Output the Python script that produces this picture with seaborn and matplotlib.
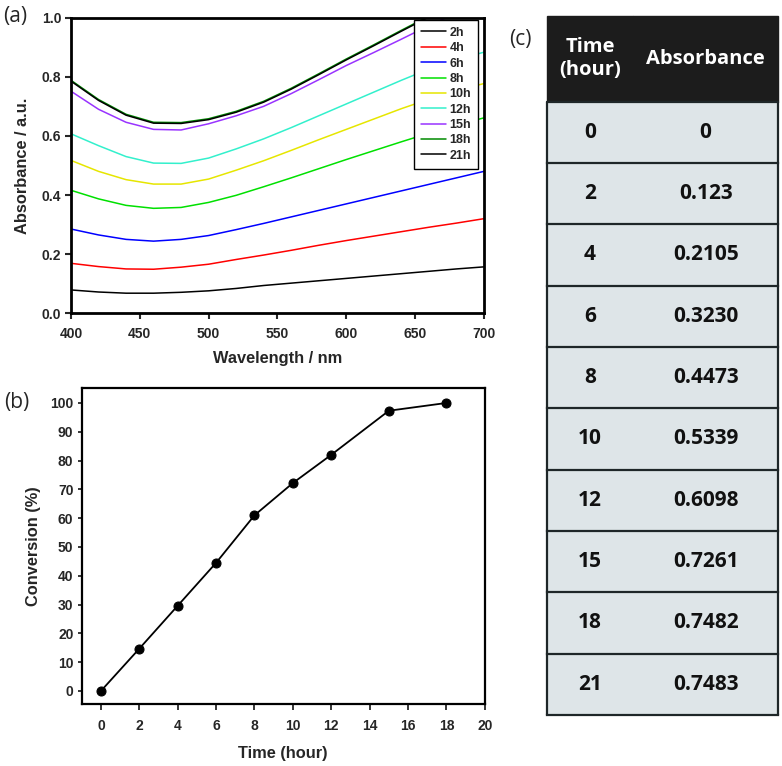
import numpy as np
import pandas as pd
import matplotlib
matplotlib.use("Agg")
import matplotlib.pyplot as plt
import seaborn as sns

# -----------------------------------------------------------------------------
# Data
# -----------------------------------------------------------------------------

# (a) UV-vis spectra, absorbance read every 20 nm
wavelength = [400, 420, 440, 460, 480, 500, 520, 540, 560, 580, 600, 620, 640, 660, 680, 700]
abs_2h = [0.079, 0.072, 0.068, 0.068, 0.071, 0.076, 0.084, 0.094, 0.102, 0.110, 0.118, 0.126, 0.134, 0.142, 0.150, 0.157]
abs_4h = [0.169, 0.158, 0.150, 0.149, 0.156, 0.166, 0.182, 0.197, 0.213, 0.230, 0.246, 0.261, 0.276, 0.291, 0.305, 0.320]
abs_6h = [0.285, 0.265, 0.250, 0.244, 0.250, 0.263, 0.283, 0.304, 0.326, 0.348, 0.370, 0.392, 0.414, 0.436, 0.458, 0.480]
abs_8h = [0.416, 0.387, 0.365, 0.355, 0.358, 0.375, 0.399, 0.428, 0.458, 0.489, 0.520, 0.550, 0.580, 0.609, 0.636, 0.661]
abs_10h = [0.517, 0.480, 0.452, 0.437, 0.437, 0.454, 0.484, 0.516, 0.551, 0.587, 0.622, 0.657, 0.692, 0.724, 0.753, 0.777]
abs_12h = [0.607, 0.567, 0.530, 0.508, 0.507, 0.525, 0.556, 0.590, 0.628, 0.668, 0.708, 0.748, 0.788, 0.826, 0.858, 0.883]
abs_15h = [0.751, 0.690, 0.646, 0.622, 0.620, 0.641, 0.668, 0.700, 0.743, 0.790, 0.838, 0.882, 0.927, 0.973, 1.015, 1.058]
abs_18h = [0.788, 0.723, 0.673, 0.646, 0.645, 0.658, 0.683, 0.717, 0.761, 0.810, 0.860, 0.908, 0.957, 1.005, 1.052, 1.098]
abs_21h = [0.785, 0.720, 0.670, 0.643, 0.642, 0.655, 0.680, 0.714, 0.758, 0.807, 0.857, 0.905, 0.954, 1.002, 1.049, 1.095]

spectra_labels = ["2h", "4h", "6h", "8h", "10h", "12h", "15h", "18h", "21h"]
spectra = [abs_2h, abs_4h, abs_6h, abs_8h, abs_10h, abs_12h, abs_15h, abs_18h, abs_21h]
spectra_colors = ["#000000", "#ff0000", "#0000ff", "#00e000", "#e6e600",
                  "#33f0cc", "#9933ff", "#008a00", "#000000"]

# (b) conversion vs time
conv_time = [0, 2, 4, 6, 8, 10, 12, 15, 18]
conversion = [0, 14.7, 29.6, 44.5, 61.0, 72.2, 82.0, 97.3, 100.0]

# (c) table
table_time = ["0", "2", "4", "6", "8", "10", "12", "15", "18", "21"]
table_abs = ["0", "0.123", "0.2105", "0.3230", "0.4473", "0.5339",
             "0.6098", "0.7261", "0.7482", "0.7483"]
table_header = ["Time\n(hour)", "Absorbance"]

# -----------------------------------------------------------------------------
# Style
# -----------------------------------------------------------------------------
sns.set_theme(style="ticks")
plt.rcParams["font.family"] = ["Liberation Sans", "DejaVu Sans"]
plt.rcParams["font.weight"] = "bold"
plt.rcParams["axes.labelweight"] = "bold"

tick_fs = 10
label_fs = 11.8
line_col = "#1e2628"

fig = plt.figure(figsize=(7.82, 7.66), dpi=100)

# -----------------------------------------------------------------------------
# (a) spectra
# -----------------------------------------------------------------------------
rows = []
for lab, vals in zip(spectra_labels, spectra):
    for w, v in zip(wavelength, vals):
        rows.append({"wavelength": w, "absorbance": v, "time": lab})
df_spec = pd.DataFrame(rows)

ax1 = fig.add_axes([0.0908, 0.591, 0.528, 0.386])
sns.lineplot(data=df_spec, x="wavelength", y="absorbance", hue="time",
             hue_order=spectra_labels, palette=spectra_colors, lw=1.1, ax=ax1)
ax1.set_xlim(400, 700)
ax1.set_ylim(0, 1.0)
ax1.set_xticks(np.arange(400, 701, 50))
ax1.set_yticks(np.arange(0, 1.01, 0.2))
ax1.set_yticklabels([f"{v:.1f}" for v in np.arange(0, 1.01, 0.2)])
ax1.set_xlabel("Wavelength / nm", fontsize=label_fs)
ax1.set_ylabel("Absorbance / a.u.", fontsize=label_fs)
ax1.xaxis.set_label_coords(0.5, -0.128)
ax1.yaxis.set_label_coords(-0.1, 0.5)
ax1.tick_params(axis="x", direction="out", length=4, width=1.5, pad=6, labelsize=tick_fs)
ax1.tick_params(axis="y", direction="out", length=4, width=1.5, pad=3, labelsize=tick_fs)
for s in ax1.spines.values():
    s.set_visible(True)
    s.set_linewidth(2.0)
    s.set_color("black")
leg = ax1.legend(loc="upper right", bbox_to_anchor=(0.986, 0.992), borderaxespad=0,
                 fontsize=9, frameon=True, fancybox=False, framealpha=1,
                 edgecolor="black", handlelength=2.0, handletextpad=0.3,
                 labelspacing=0.27, borderpad=0.55, title=None)
leg.get_frame().set_linewidth(1.0)
for t in leg.get_texts():
    t.set_fontweight("bold")

# -----------------------------------------------------------------------------
# (b) conversion
# -----------------------------------------------------------------------------
df_conv = pd.DataFrame({"time": conv_time, "conversion": conversion})
ax2 = fig.add_axes([0.1045, 0.081, 0.5155, 0.4125])
sns.lineplot(data=df_conv, x="time", y="conversion", color="black", lw=1.3,
             marker="o", markersize=6.5, markeredgecolor="black", ax=ax2)
ax2.set_xlim(-1, 20)
ax2.set_ylim(-4.5, 105.2)
ax2.set_xticks(np.arange(0, 21, 2))
ax2.set_yticks(np.arange(0, 101, 10))
ax2.set_xlabel("Time (hour)", fontsize=label_fs)
ax2.set_ylabel("Conversion (%)", fontsize=label_fs)
ax2.xaxis.set_label_coords(0.5, -0.132)
ax2.yaxis.set_label_coords(-0.1, 0.5)
ax2.tick_params(axis="x", direction="out", length=4, width=1.3, pad=7, labelsize=tick_fs)
ax2.tick_params(axis="y", direction="out", length=3, width=1.3, pad=3, labelsize=tick_fs)
for s in ax2.spines.values():
    s.set_visible(True)
    s.set_linewidth(1.6)
    s.set_color("black")

# -----------------------------------------------------------------------------
# (c) table
# -----------------------------------------------------------------------------
ax3 = fig.add_axes([0.699, 0.0666, 0.296, 0.913])
ax3.axis("off")
cell_text = [[t, a] for t, a in zip(table_time, table_abs)]
tbl = ax3.table(cellText=cell_text, colLabels=table_header, cellLoc="center",
                bbox=[0, 0, 1, 1])
tbl.auto_set_font_size(False)
col_w = [0.374, 0.626]
for (r, c), cell in tbl.get_celld().items():
    cell.set_width(col_w[c])
    cell.get_text().set_fontfamily(["Open Sans", "DejaVu Sans"])
    cell.get_text().set_fontweight("bold")
    if r == 0:
        cell.set_height(86)
        cell.set_facecolor("#1c1c1c")
        cell.set_edgecolor("#1c1c1c")
        cell.get_text().set_color("white")
        cell.get_text().set_fontsize(14.5)
        cell.get_text().set_linespacing(1.2)
    else:
        cell.set_height(61.3)
        cell.set_facecolor("#dee5e8")
        cell.set_edgecolor("#dee5e8")
        cell.set_linewidth(0.5)
        cell.get_text().set_color("#111111")
        cell.get_text().set_fontsize(15)

# row separators and outer border, taken from the laid-out cells
fig.canvas.draw()
n_rows = len(table_time)
body_top = tbl[1, 0].get_y() + tbl[1, 0].get_height()
for r in range(1, n_rows + 1):
    yb = tbl[r, 0].get_y()
    ax3.plot([0, 1], [yb, yb], color=line_col, lw=1.6, transform=ax3.transAxes,
             clip_on=False, solid_capstyle="projecting")
ax3.plot([0, 1], [body_top, body_top], color=line_col, lw=1.6,
         transform=ax3.transAxes, clip_on=False)
for xe in [0, 1]:
    ax3.plot([xe, xe], [0, body_top], color=line_col, lw=1.6,
             transform=ax3.transAxes, clip_on=False)

# panel letters
for txt, x, y in [("(a)", 0.02, 0.978), ("(b)", 0.021, 0.475), ("(c)", 0.665, 0.948)]:
    fig.text(x, y, txt, fontsize=15, fontweight="normal",
             family=["Open Sans", "DejaVu Sans"], ha="center", va="center")

fig.savefig("out.png", dpi=100)
